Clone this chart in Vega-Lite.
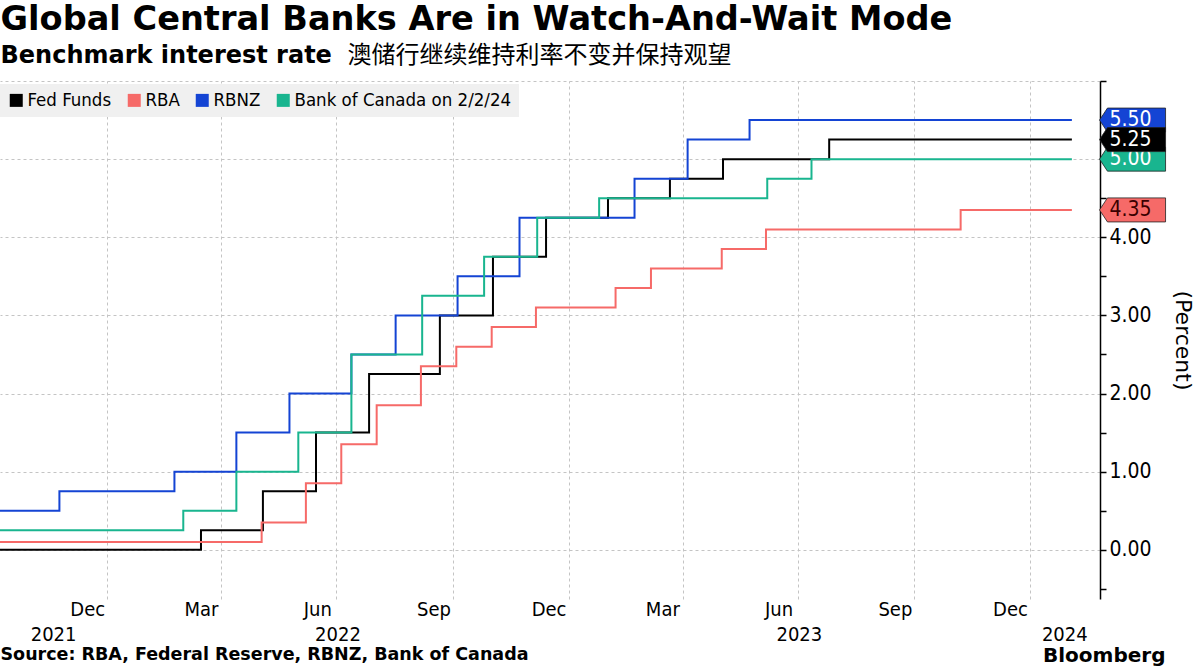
{
  "$schema": "https://vega.github.io/schema/vega-lite/v6.json",
  "width": 1100,
  "height": 518,
  "autosize": {"type": "none"},
  "padding": {"left": 0, "top": 81, "right": 98, "bottom": 72},
  "background": "white",
  "datasets": {
    "rates": [
      {"series": "Fed Funds", "date": "2021-10-08", "rate": 0},
      {"series": "Fed Funds", "date": "2022-03-16", "rate": 0.25},
      {"series": "Fed Funds", "date": "2022-05-04", "rate": 0.75},
      {"series": "Fed Funds", "date": "2022-06-15", "rate": 1.5},
      {"series": "Fed Funds", "date": "2022-07-27", "rate": 2.25},
      {"series": "Fed Funds", "date": "2022-09-21", "rate": 3.0},
      {"series": "Fed Funds", "date": "2022-11-02", "rate": 3.75},
      {"series": "Fed Funds", "date": "2022-12-14", "rate": 4.25},
      {"series": "Fed Funds", "date": "2023-02-01", "rate": 4.5},
      {"series": "Fed Funds", "date": "2023-03-22", "rate": 4.75},
      {"series": "Fed Funds", "date": "2023-05-03", "rate": 5.0},
      {"series": "Fed Funds", "date": "2023-07-26", "rate": 5.25},
      {"series": "Fed Funds", "date": "2024-02-03", "rate": 5.25},
      {"series": "RBA", "date": "2021-10-08", "rate": 0.1},
      {"series": "RBA", "date": "2022-05-03", "rate": 0.35},
      {"series": "RBA", "date": "2022-06-07", "rate": 0.85},
      {"series": "RBA", "date": "2022-07-05", "rate": 1.35},
      {"series": "RBA", "date": "2022-08-02", "rate": 1.85},
      {"series": "RBA", "date": "2022-09-06", "rate": 2.35},
      {"series": "RBA", "date": "2022-10-04", "rate": 2.6},
      {"series": "RBA", "date": "2022-11-01", "rate": 2.85},
      {"series": "RBA", "date": "2022-12-06", "rate": 3.1},
      {"series": "RBA", "date": "2023-02-07", "rate": 3.35},
      {"series": "RBA", "date": "2023-03-07", "rate": 3.6},
      {"series": "RBA", "date": "2023-05-02", "rate": 3.85},
      {"series": "RBA", "date": "2023-06-06", "rate": 4.1},
      {"series": "RBA", "date": "2023-11-07", "rate": 4.35},
      {"series": "RBA", "date": "2024-02-03", "rate": 4.35},
      {"series": "RBNZ", "date": "2021-10-08", "rate": 0.5},
      {"series": "RBNZ", "date": "2021-11-24", "rate": 0.75},
      {"series": "RBNZ", "date": "2022-02-23", "rate": 1.0},
      {"series": "RBNZ", "date": "2022-04-13", "rate": 1.5},
      {"series": "RBNZ", "date": "2022-05-25", "rate": 2.0},
      {"series": "RBNZ", "date": "2022-07-13", "rate": 2.5},
      {"series": "RBNZ", "date": "2022-08-17", "rate": 3.0},
      {"series": "RBNZ", "date": "2022-10-05", "rate": 3.5},
      {"series": "RBNZ", "date": "2022-11-23", "rate": 4.25},
      {"series": "RBNZ", "date": "2023-02-22", "rate": 4.75},
      {"series": "RBNZ", "date": "2023-04-05", "rate": 5.25},
      {"series": "RBNZ", "date": "2023-05-24", "rate": 5.5},
      {"series": "RBNZ", "date": "2024-02-03", "rate": 5.5},
      {"series": "Bank of Canada on 2/2/24", "date": "2021-10-08", "rate": 0.25},
      {"series": "Bank of Canada on 2/2/24", "date": "2022-03-02", "rate": 0.5},
      {"series": "Bank of Canada on 2/2/24", "date": "2022-04-13", "rate": 1.0},
      {"series": "Bank of Canada on 2/2/24", "date": "2022-06-01", "rate": 1.5},
      {"series": "Bank of Canada on 2/2/24", "date": "2022-07-13", "rate": 2.5},
      {"series": "Bank of Canada on 2/2/24", "date": "2022-09-07", "rate": 3.25},
      {"series": "Bank of Canada on 2/2/24", "date": "2022-10-26", "rate": 3.75},
      {"series": "Bank of Canada on 2/2/24", "date": "2022-12-07", "rate": 4.25},
      {"series": "Bank of Canada on 2/2/24", "date": "2023-01-25", "rate": 4.5},
      {"series": "Bank of Canada on 2/2/24", "date": "2023-06-07", "rate": 4.75},
      {"series": "Bank of Canada on 2/2/24", "date": "2023-07-12", "rate": 5.0},
      {"series": "Bank of Canada on 2/2/24", "date": "2024-02-03", "rate": 5.0}
    ],
    "tags": [
      {"series": "RBNZ", "rate": 5.5, "label": "5.50"},
      {"series": "Bank of Canada on 2/2/24", "rate": 5.0, "label": "5.00"},
      {"series": "RBA", "rate": 4.35, "label": "4.35"},
      {"series": "Fed Funds", "rate": 5.25, "label": "5.25"}
    ]
  },
  "layer": [
    {
      "data": {"name": "rates"},
      "mark": {"type": "line", "interpolate": "step-after", "strokeWidth": 2},
      "encoding": {
        "x": {
          "field": "date", "type": "temporal",
          "scale": {"type": "time", "nice": false, "domain": [{"year": 2021, "month": 10, "date": 8, "utc": true}, {"year": 2024, "month": 2, "date": 25, "hours": 6, "utc": true}]},
          "axis": {
            "orient": "bottom",
            "values": [
              {"year": 2021, "month": 12, "date": 16, "utc": true},
              {"year": 2022, "month": 3, "date": 16, "utc": true},
              {"year": 2022, "month": 6, "date": 16, "utc": true},
              {"year": 2022, "month": 9, "date": 16, "utc": true},
              {"year": 2022, "month": 12, "date": 16, "utc": true},
              {"year": 2023, "month": 3, "date": 16, "utc": true},
              {"year": 2023, "month": 6, "date": 16, "utc": true},
              {"year": 2023, "month": 9, "date": 16, "utc": true},
              {"year": 2023, "month": 12, "date": 16, "utc": true}
            ],
            "format": "%b",
            "grid": false, "ticks": false, "tickSize": 0, "domain": false,
            "labelFont": "DejaVu Sans Condensed", "labelFontSize": 20, "labelColor": "#000000",
            "labelBaseline": "alphabetic", "labelPadding": 16, "labelFlush": false, "labelOverlap": false,
            "title": "Bloomberg", "titleX": 1165, "titleY": 62.5, "titleAlign": "right", "titleBaseline": "alphabetic", "titleAngle": 0,
            "titleFont": "DejaVu Sans", "titleFontSize": 20, "titleFontWeight": "bold", "titleColor": "#000000"
          }
        },
        "y": {
          "field": "rate", "type": "quantitative",
          "scale": {"domain": [-0.63, 6.0], "nice": false, "zero": false},
          "axis": {
            "orient": "right",
            "values": [0, 1, 2, 3, 4],
            "format": ".2f",
            "grid": false,
            "domain": true, "domainColor": "#000000", "domainWidth": 1.5,
            "ticks": true, "tickColor": "#000000", "tickSize": 6, "tickWidth": 1.5,
            "labels": true, "labelOverlap": false, "labelFlush": false, "labelBound": false,
            "labelFont": "DejaVu Sans Condensed", "labelFontSize": 21, "labelColor": "#000000", "labelPadding": 3,
            "title": "(Percent)", "titleFont": "DejaVu Sans", "titleFontSize": 22, "titleFontWeight": "normal",
            "titleColor": "#000000", "titleAngle": 90, "titleX": 82, "titleY": 259, "titleAlign": "center", "titleBaseline": "middle"
          }
        },
        "color": {
          "field": "series", "type": "nominal",
          "scale": {"domain": ["Fed Funds", "RBA", "RBNZ", "Bank of Canada on 2/2/24"], "range": ["#000000", "#f66a68", "#1444d4", "#19b58f"]},
          "legend": {
            "orient": "none", "legendX": 0, "legendY": 3, "direction": "horizontal", "title": null,
            "fillColor": "#f0f0f0", "padding": 7, "symbolType": "square", "symbolSize": 169, "symbolStrokeWidth": 0,
            "labelFont": "DejaVu Sans Condensed", "labelFontSize": 18.5, "labelColor": "#000000", "labelLimit": 400, "columnPadding": 13, "labelOffset": 2, "symbolOpacity": 1,
            "encode": {"symbols": {"update": {"fill": {"scale": "color", "field": "value"}, "strokeWidth": {"value": 0}}}}
          }
        }
      }
    },
    {
      "data": {"name": "tags"},
      "transform": [{"filter": "datum.series !== 'Fed Funds'"}],
      "mark": {"type": "point", "shape": "M-1,0L-0.76,-0.364L1,-0.364L1,0.364L-0.76,0.364Z", "size": 4356, "filled": true, "opacity": 1, "stroke": "#222222", "strokeWidth": 0.8},
      "encoding": {
        "x": {
          "datum": {"year": 2024, "month": 3, "date": 22, "utc": true}, "type": "temporal",
          "scale": {"type": "time", "nice": false, "domain": [{"year": 2021, "month": 10, "date": 8, "utc": true}, {"year": 2024, "month": 2, "date": 25, "hours": 6, "utc": true}]},
          "axis": {
            "orient": "bottom",
            "values": [
              {"year": 2021, "month": 11, "date": 19, "utc": true},
              {"year": 2022, "month": 7, "date": 2, "utc": true},
              {"year": 2023, "month": 7, "date": 2, "utc": true},
              {"year": 2024, "month": 1, "date": 28, "utc": true}
            ],
            "format": "%Y",
            "grid": false, "ticks": false, "tickSize": 0, "domain": false,
            "labelFont": "DejaVu Sans Condensed", "labelFontSize": 20, "labelColor": "#000000",
            "labelBaseline": "alphabetic", "labelPadding": 41, "labelFlush": false, "labelOverlap": false,
            "title": "Source: RBA, Federal Reserve, RBNZ, Bank of Canada", "titleX": 0, "titleY": 60.5, "titleAlign": "left", "titleBaseline": "alphabetic", "titleAngle": 0,
            "titleFont": "DejaVu Sans", "titleFontSize": 17.5, "titleFontWeight": "bold", "titleColor": "#000000"
          }
        },
        "y": {
          "field": "rate", "type": "quantitative",
          "scale": {"domain": [-0.63, 6.0], "nice": false, "zero": false},
          "axis": {
            "orient": "right",
            "values": [-0.5, 0.5, 1.5, 2.5, 3.5, 4.5, 5, 5.5, 6],
            "grid": false, "domain": false, "labels": false, "title": null,
            "ticks": true, "tickColor": "#000000", "tickSize": 6, "tickWidth": 1.5
          }
        },
        "color": {
          "field": "series", "type": "nominal",
          "scale": {"domain": ["Fed Funds", "RBA", "RBNZ", "Bank of Canada on 2/2/24"], "range": ["#000000", "#f66a68", "#1444d4", "#19b58f"]},
          "legend": {
            "orient": "none", "legendX": 0, "legendY": 3, "direction": "horizontal", "title": null,
            "fillColor": "#f0f0f0", "padding": 7, "symbolType": "square", "symbolSize": 169, "symbolStrokeWidth": 0,
            "labelFont": "DejaVu Sans Condensed", "labelFontSize": 18.5, "labelColor": "#000000", "labelLimit": 400, "columnPadding": 13, "labelOffset": 2, "symbolOpacity": 1,
            "encode": {"symbols": {"update": {"fill": {"scale": "color", "field": "value"}, "strokeWidth": {"value": 0}}}}
          }
        }
      }
    },
    {
      "data": {"name": "tags"},
      "transform": [{"filter": "datum.series !== 'Fed Funds'"}],
      "mark": {"type": "text", "align": "left", "baseline": "middle", "dx": -23, "font": "DejaVu Sans Condensed", "fontSize": 21},
      "encoding": {
        "x": {
          "datum": {"year": 2024, "month": 3, "date": 22, "utc": true}, "type": "temporal",
          "scale": {"type": "time", "nice": false, "domain": [{"year": 2021, "month": 10, "date": 8, "utc": true}, {"year": 2024, "month": 2, "date": 25, "hours": 6, "utc": true}]},
          "axis": {
            "orient": "top",
            "values": [
              {"year": 2022, "month": 1, "date": 1, "utc": true},
              {"year": 2022, "month": 4, "date": 1, "utc": true},
              {"year": 2022, "month": 7, "date": 1, "utc": true},
              {"year": 2022, "month": 10, "date": 1, "utc": true},
              {"year": 2023, "month": 1, "date": 1, "utc": true},
              {"year": 2023, "month": 4, "date": 1, "utc": true},
              {"year": 2023, "month": 7, "date": 1, "utc": true},
              {"year": 2023, "month": 10, "date": 1, "utc": true},
              {"year": 2024, "month": 1, "date": 1, "utc": true}
            ],
            "grid": true, "gridDash": [3, 3], "gridColor": "#c4c4c4", "gridWidth": 1,
            "labels": false, "ticks": false, "domain": false,
            "title": "Benchmark interest rate", "titleX": 0, "titleY": -18.7, "titleAlign": "left", "titleBaseline": "alphabetic", "titleAngle": 0,
            "titleFont": "DejaVu Sans", "titleFontSize": 24, "titleFontWeight": "bold", "titleColor": "#000000"
          }
        },
        "y": {
          "field": "rate", "type": "quantitative",
          "scale": {"domain": [-0.63, 6.0], "nice": false, "zero": false},
          "axis": {
            "orient": "right",
            "values": [0, 1, 2, 3, 4, 5, 6],
            "grid": true, "gridDash": [3, 3], "gridColor": "#c4c4c4", "gridWidth": 1,
            "domain": false, "labels": false, "ticks": false, "title": null
          }
        },
        "text": {"field": "label"},
        "color": {"condition": {"test": "datum.series === 'RBA'", "value": "#3a0000"}, "value": "#ffffff"}
      }
    },
    {
      "data": {"name": "tags"},
      "transform": [{"filter": "datum.series === 'Fed Funds'"}],
      "mark": {"type": "point", "shape": "M-1,0L-0.76,-0.364L1,-0.364L1,0.364L-0.76,0.364Z", "size": 4356, "filled": true, "opacity": 1, "stroke": "#222222", "strokeWidth": 0.8},
      "encoding": {
        "x": {
          "datum": {"year": 2024, "month": 3, "date": 22, "utc": true}, "type": "temporal",
          "scale": {"type": "time", "nice": false, "domain": [{"year": 2021, "month": 10, "date": 8, "utc": true}, {"year": 2024, "month": 2, "date": 25, "hours": 6, "utc": true}]},
          "axis": {
            "orient": "top", "values": [],
            "labels": false, "ticks": false, "domain": false, "grid": false,
            "title": "澳储行继续维持利率不变并保持观望", "titleX": 347, "titleY": -18.7, "titleAlign": "left", "titleBaseline": "alphabetic", "titleAngle": 0,
            "titleFont": "Noto Sans CJK SC", "titleFontSize": 24, "titleFontWeight": "normal", "titleColor": "#000000"
          }
        },
        "y": {"field": "rate", "type": "quantitative", "scale": {"domain": [-0.63, 6.0], "nice": false, "zero": false}, "axis": null},
        "color": {
          "field": "series", "type": "nominal",
          "scale": {"domain": ["Fed Funds", "RBA", "RBNZ", "Bank of Canada on 2/2/24"], "range": ["#000000", "#f66a68", "#1444d4", "#19b58f"]},
          "legend": {
            "orient": "none", "legendX": 0, "legendY": 3, "direction": "horizontal", "title": null,
            "fillColor": "#f0f0f0", "padding": 7, "symbolType": "square", "symbolSize": 169, "symbolStrokeWidth": 0,
            "labelFont": "DejaVu Sans Condensed", "labelFontSize": 18.5, "labelColor": "#000000", "labelLimit": 400, "columnPadding": 13, "labelOffset": 2, "symbolOpacity": 1,
            "encode": {"symbols": {"update": {"fill": {"scale": "color", "field": "value"}, "strokeWidth": {"value": 0}}}}
          }
        }
      }
    },
    {
      "data": {"name": "tags"},
      "transform": [{"filter": "datum.series === 'Fed Funds'"}],
      "mark": {"type": "text", "align": "left", "baseline": "middle", "dx": -23, "font": "DejaVu Sans Condensed", "fontSize": 21, "color": "#ffffff"},
      "encoding": {
        "x": {
          "datum": {"year": 2024, "month": 3, "date": 22, "utc": true}, "type": "temporal",
          "scale": {"type": "time", "nice": false, "domain": [{"year": 2021, "month": 10, "date": 8, "utc": true}, {"year": 2024, "month": 2, "date": 25, "hours": 6, "utc": true}]},
          "axis": {
            "orient": "top", "values": [],
            "labels": false, "ticks": false, "domain": false, "grid": false,
            "title": "Global Central Banks Are in Watch-And-Wait Mode", "titleX": 0, "titleY": -52, "titleAlign": "left", "titleBaseline": "alphabetic", "titleAngle": 0,
            "titleFont": "DejaVu Sans", "titleFontSize": 33.6, "titleFontWeight": "bold", "titleColor": "#000000"
          }
        },
        "y": {"field": "rate", "type": "quantitative", "scale": {"domain": [-0.63, 6.0], "nice": false, "zero": false}, "axis": null},
        "text": {"field": "label"}
      }
    }
  ],
  "resolve": {"axis": {"x": "independent", "y": "independent"}},
  "config": {"view": {"stroke": null}, "font": "DejaVu Sans"}
}
